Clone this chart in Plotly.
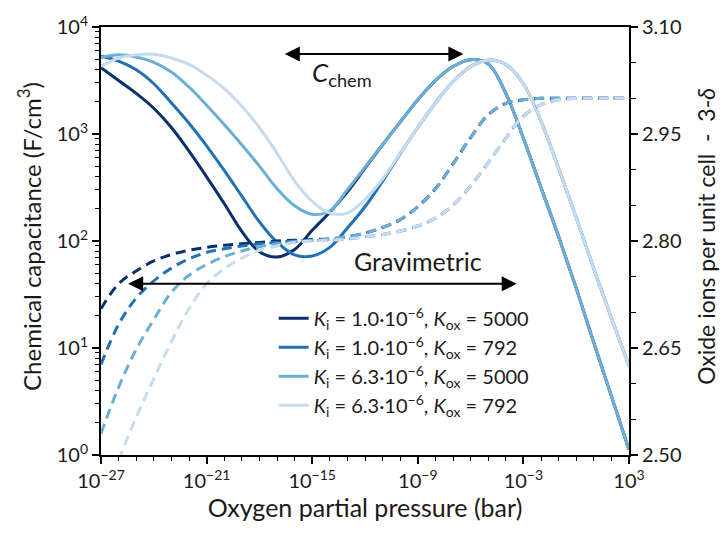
import plotly.graph_objects as go

# ---------------- data ----------------
# log10 of oxygen partial pressure (bar): one point per decade
logp = list(range(-27, 4))

# chemical capacitance (F/cm^3)
c_ki1_kox5000 = [4170, 3160, 2400, 1740, 1150, 692, 398, 224, 123, 79.4, 70.8, 83.2, 126, 186, 288, 479,
                 794, 1290, 2090, 3160, 4270, 4950, 4520, 2400, 912, 316, 110, 36.3, 11.2, 3.55, 1.12]
c_ki1_kox792 = [5320, 4790, 3980, 2950, 1950, 1260, 776, 457, 263, 151, 97.7, 74.1, 72.4, 87.1, 132, 209,
                363, 655, 1150, 1950, 3090, 4270, 4900, 4470, 2950, 1320, 479, 166, 55, 19.1, 6.8]
c_ki63_kox5000 = [5180, 5500, 5250, 4680, 3800, 2750, 1860, 1230, 794, 501, 309, 214, 178, 191, 302, 490,
                  794, 1290, 2090, 3160, 4270, 4950, 4520, 2400, 912, 316, 110, 36.3, 11.2, 3.55, 1.12]
c_ki63_kox792 = [4270, 5130, 5500, 5560, 5130, 4470, 3550, 2660, 1820, 1150, 661, 363, 234, 182, 182, 245,
                 380, 661, 1150, 1950, 3090, 4270, 4900, 4470, 2950, 1320, 479, 166, 55, 19.1, 6.8]

# oxide ions per unit cell (3 - delta)
o_ki1_kox5000 = [2.705, 2.740, 2.758, 2.772, 2.781, 2.787, 2.791, 2.794, 2.796, 2.798, 2.800, 2.801, 2.802,
                 2.803, 2.806, 2.811, 2.819, 2.830, 2.848, 2.873, 2.908, 2.945, 2.977, 2.993, 2.998, 3.000,
                 3.000, 3.000, 3.000, 3.000, 3.000]
o_ki1_kox792 = [2.627, 2.683, 2.720, 2.744, 2.762, 2.775, 2.784, 2.789, 2.793, 2.796, 2.798, 2.800, 2.8005,
                2.801, 2.803, 2.806, 2.809, 2.814, 2.821, 2.832, 2.850, 2.877, 2.910, 2.944, 2.975, 2.991,
                2.998, 3.000, 3.000, 3.000, 3.000]
o_ki63_kox5000 = [2.530, 2.595, 2.648, 2.690, 2.728, 2.752, 2.767, 2.778, 2.786, 2.792, 2.796, 2.799, 2.801,
                  2.803, 2.806, 2.811, 2.819, 2.830, 2.848, 2.873, 2.908, 2.945, 2.977, 2.993, 2.998, 3.000,
                  3.000, 3.000, 3.000, 3.000, 3.000]
o_ki63_kox792 = [2.430, 2.493, 2.553, 2.607, 2.659, 2.705, 2.740, 2.761, 2.776, 2.787, 2.793, 2.798, 2.800,
                 2.801, 2.803, 2.806, 2.809, 2.814, 2.821, 2.832, 2.850, 2.877, 2.910, 2.944, 2.975, 2.991,
                 2.998, 3.000, 3.000, 3.000, 3.000]

labels = [
    "<i>K</i><sub>i</sub> = 1.0·10<sup>−6</sup>, <i>K</i><sub>ox</sub> = 5000",
    "<i>K</i><sub>i</sub> = 1.0·10<sup>−6</sup>, <i>K</i><sub>ox</sub> = 792",
    "<i>K</i><sub>i</sub> = 6.3·10<sup>−6</sup>, <i>K</i><sub>ox</sub> = 5000",
    "<i>K</i><sub>i</sub> = 6.3·10<sup>−6</sup>, <i>K</i><sub>ox</sub> = 792",
]
colors = ["#08306b", "#2171b5", "#6baed6", "#c6dbef"]

x_ticks = [-27, -21, -15, -9, -3, 3]
y_ticks = [0, 1, 2, 3, 4]
y2_ticks = [2.50, 2.65, 2.80, 2.95, 3.10]

# ---------------- figure ----------------
FONT = "Lato"
TXT = "#1a1a1a"
fig = go.Figure()
pO2 = [10.0 ** v for v in logp]

solids = [c_ki1_kox5000, c_ki1_kox792, c_ki63_kox5000, c_ki63_kox792]
dashes = [o_ki1_kox5000, o_ki1_kox792, o_ki63_kox5000, o_ki63_kox792]

for c, lab, col in zip(solids, labels, colors):
    fig.add_trace(go.Scatter(x=pO2, y=c, mode="lines", name=lab,
                             line=dict(color=col, width=3, shape="spline", smoothing=1.0)))
for o, col in zip(dashes, colors):
    fig.add_trace(go.Scatter(x=pO2, y=o, mode="lines", yaxis="y2", showlegend=False,
                             line=dict(color=col, width=3, dash="10px,6px", shape="spline", smoothing=1.0)))

axis_common = dict(showline=True, linecolor="black", linewidth=2, ticks="outside", tickcolor="black",
                   tickwidth=1.5, ticklen=7, showgrid=False, zeroline=False,
                   tickfont=dict(family=FONT, size=20, color=TXT))

fig.update_layout(
    width=723, height=534,
    margin=dict(l=101, r=94, t=22, b=79),
    plot_bgcolor="white", paper_bgcolor="white",
    font=dict(family=FONT, size=20, color=TXT),
    xaxis=dict(type="log", range=[-27, 3],
               tickvals=[10.0 ** v for v in x_ticks],
               ticktext=["10<sup>−%d</sup>" % (-v) if v < 0 else "10<sup>%d</sup>" % v for v in x_ticks],
               minor=dict(tickvals=[10.0 ** k for k in range(-26, 3)], ticks="outside", ticklen=4,
                          tickwidth=1.2, tickcolor="black"),
               mirror=True,
               title=dict(text="Oxygen partial pressure (bar)", font=dict(family=FONT, size=25, color=TXT),
                          standoff=6),
               **axis_common),
    yaxis=dict(type="log", range=[0, 4],
               tickvals=[10.0 ** v for v in y_ticks],
               ticktext=["10<sup>%d</sup>" % v for v in y_ticks],
               minor=dict(tickvals=[m * 10 ** k for k in range(0, 4) for m in range(2, 10)], ticks="outside",
                          ticklen=4, tickwidth=1.2, tickcolor="black"),
               **axis_common),
    yaxis2=dict(overlaying="y", side="right", range=[2.5, 3.1],
                tickvals=y2_ticks, ticktext=["%.2f" % v for v in y2_ticks],
                minor=dict(dtick=0.05, tick0=2.5, ticks="outside", ticklen=5, tickwidth=1.2,
                           tickcolor="black"),
                **axis_common),
    legend=dict(x=0.327, y=0.365, xanchor="left", yanchor="top", bgcolor="rgba(0,0,0,0)",
                font=dict(family=FONT, size=20, color=TXT)),
    showlegend=True,
)

# axis titles for the two y axes
fig.add_annotation(x=-0.136, y=0.51, xref="paper", yref="paper", xanchor="center", yanchor="middle",
                   text="Chemical capacitance (F/cm<sup>3</sup>)", textangle=-90, showarrow=False,
                   font=dict(family=FONT, size=24, color=TXT))
fig.add_annotation(x=1.146, y=0.51, xref="paper", yref="paper", xanchor="center", yanchor="middle",
                   text="Oxide ions per unit cell  -  3-<i>δ</i>", textangle=-90, showarrow=False,
                   font=dict(family=FONT, size=23, color=TXT))

# arrows
fig.add_annotation(x=-6.41, y=3.748, ax=-16.64, ay=3.748, xref="x", yref="y", axref="x", ayref="y",
                   text="", showarrow=True, arrowhead=2, arrowside="end+start", arrowsize=1.5,
                   arrowwidth=2, arrowcolor="black", standoff=0, startstandoff=0)
fig.add_annotation(x=-3.38, y=1.60, ax=-25.54, ay=1.60, xref="x", yref="y", axref="x", ayref="y",
                   text="", showarrow=True, arrowhead=2, arrowside="end+start", arrowsize=1.5,
                   arrowwidth=2, arrowcolor="black", standoff=0, startstandoff=0)
fig.add_annotation(x=-13.3, y=3.565, xref="x", yref="y", text="<i>C</i><sub>chem</sub>", showarrow=False,
                   font=dict(family=FONT, size=26, color=TXT))
fig.add_annotation(x=-9.0, y=1.81, xref="x", yref="y", text="Gravimetric", showarrow=False,
                   font=dict(family=FONT, size=25, color=TXT))

fig.write_html("out.html")
